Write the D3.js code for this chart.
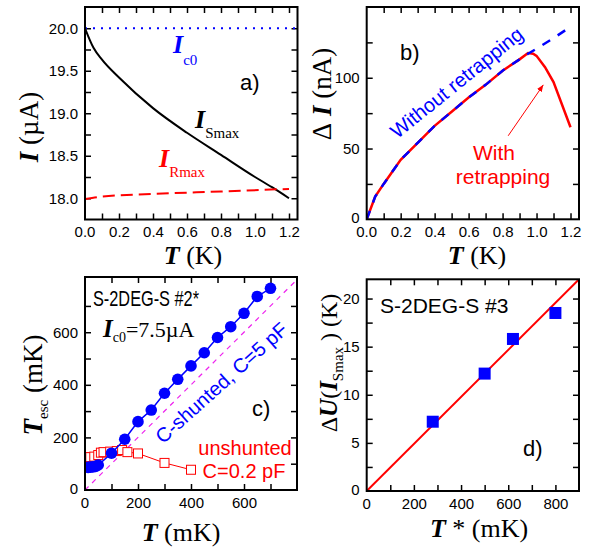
<!DOCTYPE html>
<html>
<head>
<meta charset="utf-8">
<script src="https://cdn.jsdelivr.net/npm/d3@7"></script>
<style>
  body { margin: 0; background: #fff; }
  text { font-family: "Liberation Sans", Arial, sans-serif; }
  .serif { font-family: "Liberation Serif", "Times New Roman", serif; }
</style>
</head>
<body>
<svg id="chart" width="592" height="551"></svg>
<script>
// ---- data ----
// a) critical / switching / retrapping currents
const aT      = [0, 0.05, 0.1, 0.2, 0.4, 0.6, 0.8, 1.0, 1.1, 1.2];
const aISmax  = [20.0, 19.77, 19.63, 19.42, 19.06, 18.77, 18.51, 18.25, 18.13, 18.0];
const aTR     = [0, 0.1, 0.4, 0.8, 1.2];
const aIRmax  = [17.99, 18.02, 18.05, 18.08, 18.11];
const aIc0    = 20.0;

// b) switching current width
const bT        = [0, 0.05, 0.1, 0.2, 0.3, 0.4, 0.5, 0.6, 0.7, 0.8, 0.9, 0.95, 1.0, 1.1, 1.2];
const bNoRetrap = [0, 16, 25, 42, 54, 66, 76, 86, 95, 105, 113, 117, 120.5, 128, 136];
const bTR       = [0, 0.05, 0.1, 0.2, 0.3, 0.4, 0.5, 0.6, 0.7, 0.8, 0.9, 0.95, 0.98, 1.0, 1.05, 1.1, 1.2];
const bRetrap   = [0, 16, 25, 42, 54, 66, 76, 86, 95, 105, 113, 117.5, 117, 115.5, 107.5, 97, 65];
const bArrow    = [[0.833, 59], [1.04, 95]];

// c) escape temperature vs bath temperature
const cTshunt   = [12, 20, 30, 40, 50, 100, 150, 200, 250, 300, 350, 400, 450, 500, 550, 600, 650, 700];
const cEscShunt = [86, 87, 88, 90, 95, 140, 193, 260, 304, 368, 421, 472, 522, 580, 621, 672, 736, 767];
const cTun      = [12, 20, 35, 50, 60, 70, 95, 120, 140, 160, 200, 300, 400];
const cEscUn    = [124, 125, 127, 133, 142, 144, 146, 148, 152, 144, 139, 103, 77];
const cDiag     = [0, 800];

// d) barrier height vs T*
const dTstar = [280, 500, 620, 800];
const dU     = [7.2, 12.2, 15.8, 18.5];
const dFitT  = [0, 900];
const dFitU  = [0, 22];

const svg = d3.select("#chart");
const BLUE = "#0000ff", RED = "#ff0000", MAG = "#ee22ee";
const AX = 27, AXX = 26; // axis title sizes (y, x)

function steps(a, b, s) {
  let n = Math.round((b - a) / s);
  return d3.range(n + 1).map(i => +(a + i * s).toFixed(6));
}

// draws the boxed frame with inward ticks on all sides
function panel(p) {
  let x = d3.scaleLinear().domain(p.xd).range([p.x0, p.x1]);
  let y = d3.scaleLinear().domain(p.yd).range([p.y1, p.y0]);
  let g = svg.append("g");
  let lab = (list, fmt) => v => list.some(l => Math.abs(l - v) < 1e-6) ? fmt(v) : "";
  g.append("g").attr("transform", `translate(0,${p.y1})`)
    .call(d3.axisBottom(x).tickValues(p.xt).tickSize(-6).tickPadding(7).tickFormat(lab(p.xl, p.xf)));
  g.append("g").attr("transform", `translate(0,${p.y0})`)
    .call(d3.axisTop(x).tickValues(p.xt).tickSize(-6).tickFormat(""));
  g.append("g").attr("transform", `translate(${p.x0},0)`)
    .call(d3.axisLeft(y).tickValues(p.yt).tickSize(-6).tickPadding(7).tickFormat(lab(p.yl, p.yf)));
  g.append("g").attr("transform", `translate(${p.x1},0)`)
    .call(d3.axisRight(y).tickValues(p.yt).tickSize(-6).tickFormat(""));
  g.selectAll(".domain").remove();
  g.selectAll(".tick line").attr("stroke", "#000").attr("stroke-width", 1.5);
  g.selectAll("g").attr("font-size", 15).attr("font-family", "Liberation Sans, Arial, sans-serif");
  g.selectAll(".tick text").attr("fill", "#000");
  let clip = "clip" + p.id;
  svg.append("clipPath").attr("id", clip).append("rect")
    .attr("x", p.x0).attr("y", p.y0).attr("width", p.x1 - p.x0).attr("height", p.y1 - p.y0);
  let plot = svg.append("g").attr("clip-path", `url(#${clip})`);
  svg.append("rect").attr("x", p.x0).attr("y", p.y0)
    .attr("width", p.x1 - p.x0).attr("height", p.y1 - p.y0)
    .attr("fill", "none").attr("stroke", "#000").attr("stroke-width", 2);
  // zero labels sitting on the frame corners
  if (p.x0lab) svg.append("text").attr("x", x(p.xd[0])).attr("y", p.y1 + 7).attr("dy", "0.71em")
    .attr("text-anchor", "middle").attr("font-size", 15).text(p.x0lab);
  if (p.y0lab) svg.append("text").attr("x", p.x0 - 7).attr("y", y(p.yd[0]) - 1).attr("dy", "0.32em")
    .attr("text-anchor", "end").attr("font-size", 15).text(p.y0lab);
  return { x, y, plot };
}

// rich label: parts = [[text, kind, size, dy]]
function label(x, y, parts, opt = {}) {
  let t = svg.append("text").attr("x", x).attr("y", y)
    .attr("text-anchor", opt.anchor || "start")
    .attr("fill", opt.color || "#000");
  if (opt.rotate) t.attr("transform", `rotate(${opt.rotate},${x},${y})`);
  parts.forEach(([s, kind, size, dy]) => {
    let ts = t.append("tspan").text(s).attr("font-size", size);
    if (kind === "I") ts.attr("class", "serif").attr("font-weight", "bold").attr("font-style", "italic");
    else if (kind === "s") ts.attr("class", "serif");
    if (dy) ts.attr("dy", dy);
  });
  return t;
}

const f1 = d3.format(".1f"), f0 = d3.format("d");

// ---------- a) ----------
{
  const { x, y, plot } = panel({ id: "a", x0: 85, x1: 297.5, y0: 7, y1: 219.5,
    xd: [0, 1.25], yd: [17.75, 20.25],
    xt: steps(0.1, 1.2, 0.1), xl: steps(0, 1.2, 0.2), xf: f1, x0lab: "0.0",
    yt: steps(18, 20, 0.25), yl: steps(18, 20, 0.5), yf: f1 });
  plot.append("line").attr("x1", x(0)).attr("x2", x(1.25)).attr("y1", y(aIc0)).attr("y2", y(aIc0))
    .attr("stroke", BLUE).attr("stroke-width", 2).attr("stroke-dasharray", "2,6");
  plot.append("path").datum(aT.map((t, i) => [t, aISmax[i]]))
    .attr("d", d3.line().x(d => x(d[0])).y(d => y(d[1])).curve(d3.curveMonotoneX))
    .attr("fill", "none").attr("stroke", "#000").attr("stroke-width", 2);
  plot.append("path").datum(aTR.map((t, i) => [t, aIRmax[i]]))
    .attr("d", d3.line().x(d => x(d[0])).y(d => y(d[1])).curve(d3.curveMonotoneX))
    .attr("fill", "none").attr("stroke", RED).attr("stroke-width", 2).attr("stroke-dasharray", "12,6");

  label(173, 53, [["I", "I", 26], ["c0", "s", 15, 12]], { color: BLUE });
  label(195, 128, [["I", "I", 26], ["Smax", "s", 15, 10]]);
  label(159, 167, [["I", "I", 26], ["Rmax", "s", 15, 10]], { color: RED });
  label(240, 90, [["a)", "", 22]]);
  label(193, 264, [["T", "I", AXX], [" (K)", "s", AXX]], { anchor: "middle" });
  label(38, 127, [["I", "I", AX], [" (µA)", "s", AX]], { anchor: "middle", rotate: -90 });
}

// ---------- b) ----------
{
  const { x, y, plot } = panel({ id: "b", x0: 366.7, x1: 579, y0: 7, y1: 219.3,
    xd: [0, 1.25], yd: [0, 150],
    xt: steps(0.1, 1.2, 0.1), xl: steps(0, 1.2, 0.2), xf: f1, x0lab: "0.0",
    yt: steps(25, 125, 25), yl: [50, 100], yf: f0, y0lab: "0" });
  const line = d3.line().x(d => x(d[0])).y(d => y(d[1]));
  plot.append("path").datum(bTR.map((t, i) => [t, bRetrap[i]])).attr("d", line)
    .attr("fill", "none").attr("stroke", RED).attr("stroke-width", 2.5);
  plot.append("path").datum(bT.map((t, i) => [t, bNoRetrap[i]])).attr("d", line)
    .attr("fill", "none").attr("stroke", BLUE).attr("stroke-width", 2.5).attr("stroke-dasharray", "9,9");

  svg.append("defs").append("marker").attr("id", "arr").attr("viewBox", "0 0 10 10")
    .attr("refX", 10).attr("refY", 5).attr("markerWidth", 7).attr("markerHeight", 7).attr("orient", "auto")
    .append("path").attr("d", "M0,1L10,5L0,9Z").attr("fill", RED);
  svg.append("line").attr("x1", x(bArrow[0][0])).attr("y1", y(bArrow[0][1]))
    .attr("x2", x(bArrow[1][0])).attr("y2", y(bArrow[1][1]))
    .attr("stroke", RED).attr("stroke-width", 1).attr("marker-end", "url(#arr)");

  label(461, 88, [["Without retrapping", "", 20]], { anchor: "middle", color: BLUE, rotate: -38.8 });
  label(494, 160, [["With", "", 21]], { anchor: "middle", color: RED });
  label(503, 184, [["retrapping", "", 21]], { anchor: "middle", color: RED });
  label(400, 60, [["b)", "", 22]]);
  label(477, 264, [["T", "I", AXX], [" (K)", "s", AXX]], { anchor: "middle" });
  label(331, 94, [["Δ", "s", AX], [" I", "I", AX], [" (nA)", "s", AX]], { anchor: "middle", rotate: -90 });
}

// ---------- c) ----------
{
  const { x, y, plot } = panel({ id: "c", x0: 85, x1: 297, y0: 277, y1: 490,
    xd: [0, 800], yd: [0, 810],
    xt: steps(100, 700, 100), xl: [200, 400, 600], xf: f0, x0lab: "0",
    yt: steps(100, 700, 100), yl: [200, 400, 600], yf: f0, y0lab: "0" });
  const line = d3.line().x(d => x(d[0])).y(d => y(d[1]));
  plot.append("path").datum(cDiag.map(v => [v, v])).attr("d", line)
    .attr("stroke", MAG).attr("stroke-width", 1.2).attr("stroke-dasharray", "5,5");
  const un = cTun.map((t, i) => [t, cEscUn[i]]);
  plot.append("path").datum(un).attr("d", line).attr("fill", "none").attr("stroke", RED).attr("stroke-width", 1);
  plot.selectAll("rect.un").data(un).join("rect").attr("class", "un")
    .attr("x", d => x(d[0]) - 4.5).attr("y", d => y(d[1]) - 4.5).attr("width", 9).attr("height", 9)
    .attr("fill", "#fff").attr("stroke", RED).attr("stroke-width", 1);
  const sh = cTshunt.map((t, i) => [t, cEscShunt[i]]);
  plot.append("path").datum(sh).attr("d", line).attr("fill", "none").attr("stroke", BLUE).attr("stroke-width", 1.5);
  plot.selectAll("circle").data(sh).join("circle")
    .attr("cx", d => x(d[0])).attr("cy", d => y(d[1])).attr("r", 5.8).attr("fill", BLUE);

  label(93, 306, [["S-2DEG-S #2*", "", 22]]).attr("textLength", 106).attr("lengthAdjust", "spacingAndGlyphs");
  label(103, 337, [["I", "I", 25], ["c0", "s", 14, 5], ["=7.5µA", "s", 22, -5]]);
  label(226, 388, [["C-shunted, C=5 pF", "", 20]], { anchor: "middle", color: BLUE, rotate: -41.9 });
  label(252, 416, [["c)", "", 22]]);
  label(245, 455, [["unshunted", "", 20]], { anchor: "middle", color: RED });
  label(244, 478, [["C=0.2 pF", "", 20]], { anchor: "middle", color: RED });
  label(181, 541, [["T", "I", AXX], [" (mK)", "s", AXX]], { anchor: "middle" });
  label(42, 385, [["T", "I", AX], ["esc", "s", 15, 6], [" (mK)", "s", AX, -6]], { anchor: "middle", rotate: -90 });
}

// ---------- d) ----------
{
  const { x, y, plot } = panel({ id: "d", x0: 366.7, x1: 579, y0: 279.3, y1: 491,
    xd: [0, 900], yd: [0, 22],
    xt: steps(100, 800, 100), xl: [200, 400, 600, 800], xf: f0, x0lab: "0",
    yt: steps(2.5, 20, 2.5), yl: [5, 10, 15, 20], yf: f0, y0lab: "0" });
  plot.append("path").datum(dFitT.map((t, i) => [t, dFitU[i]]))
    .attr("d", d3.line().x(d => x(d[0])).y(d => y(d[1])))
    .attr("stroke", RED).attr("stroke-width", 2);
  plot.selectAll("rect.pt").data(dTstar.map((t, i) => [t, dU[i]])).join("rect").attr("class", "pt")
    .attr("x", d => x(d[0]) - 6).attr("y", d => y(d[1]) - 6).attr("width", 12).attr("height", 12)
    .attr("fill", BLUE);

  label(380, 313, [["S-2DEG-S #3", "", 21]]);
  label(523, 456, [["d)", "", 22]]);
  label(479, 537, [["T", "I", AXX], [" *", "s", AXX], [" (mK)", "s", AXX]], { anchor: "middle" });
  label(337, 363, [["Δ", "s", 24], ["U", "I", 25], ["(", "s", 24], ["I", "I", 25],
    ["Smax", "s", 15, 6], [" ) (K)", "s", 24, -6]], { anchor: "middle", rotate: -90 });
}
</script>
</body>
</html>
